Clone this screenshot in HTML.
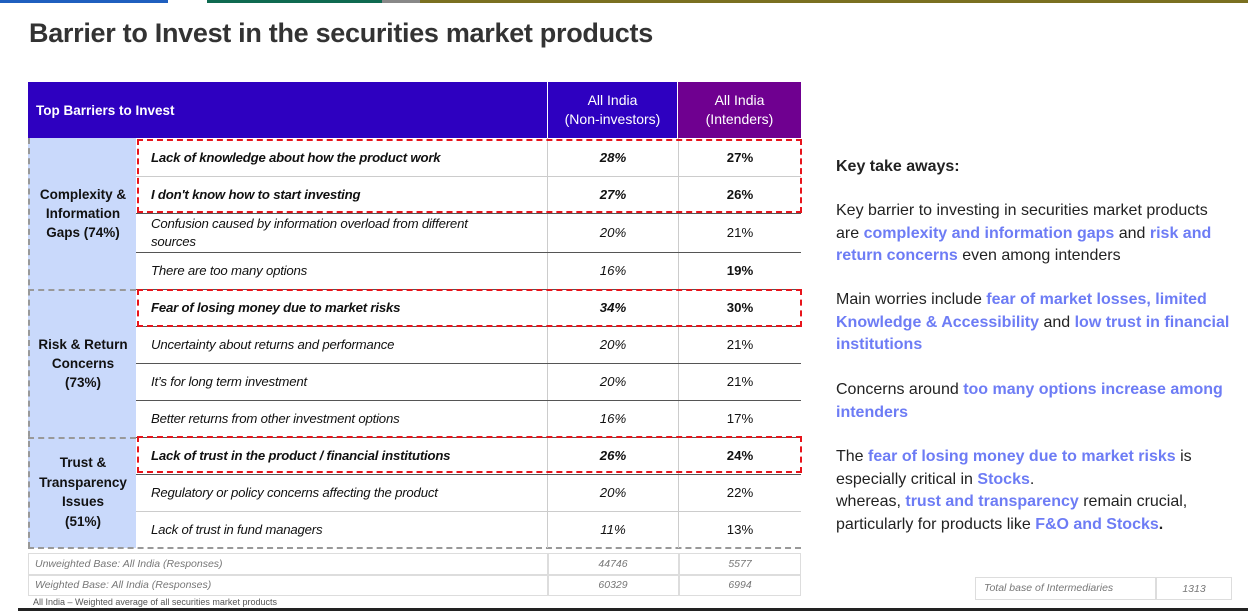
<!DOCTYPE html>
<html><head><meta charset="utf-8"><style>
*{margin:0;padding:0;box-sizing:border-box}
body{width:1248px;height:611px;background:#fff;position:relative;overflow:hidden;font-family:"Liberation Sans",sans-serif;color:#111}
.a{position:absolute}
.c{display:flex;align-items:center;justify-content:center;text-align:center}
.l{display:flex;align-items:center}
.bar{position:absolute;top:0;height:3px}
.row{position:absolute;left:136px;width:665px;height:1px;background:#555}
.txt{font-size:13.2px;font-style:italic;letter-spacing:-0.2px}
.num{font-size:13.2px;font-style:italic}
.red{position:absolute;border:2.5px dashed #e8141b}
.rt{position:absolute;left:836px;font-size:16px;line-height:22.5px;color:#222}
.b{color:#6d7cf5;font-weight:bold}
</style></head><body>
<div class="bar" style="left:0;width:168px;background:#1f5fbf"></div>
<div class="bar" style="left:207px;width:175px;background:#0e6a50"></div>
<div class="bar" style="left:382px;width:38px;background:#888"></div>
<div class="bar" style="left:420px;width:828px;background:#7a7020"></div>
<div class="a" style="left:29px;top:18px;font-size:27px;font-weight:bold;color:#333;letter-spacing:-0.3px">Barrier to Invest in the securities market products</div>

<div class="a l" style="left:28px;top:82px;width:519px;height:56px;background:#2e00c0;color:#fff;font-size:13.5px;font-weight:bold;padding-left:8px">Top Barriers to Invest</div>
<div class="a c" style="left:548px;top:82px;width:129px;height:56px;background:#2e00c0;color:#fff;font-size:14px;line-height:19px">All India<br>(Non-investors)</div>
<div class="a c" style="left:678px;top:82px;width:123px;height:56px;background:#6f0090;color:#fff;font-size:14px;line-height:19px">All India<br>(Intenders)</div>

<div class="a c" style="left:28px;top:138px;width:108px;height:410px;background:#c9d9fb;border-left:2px dashed #999"></div>
<div class="a" style="left:28px;top:289px;width:108px;border-top:2px dashed #999"></div>
<div class="a" style="left:28px;top:437px;width:108px;border-top:2px dashed #999"></div>
<div class="a" style="left:28px;top:547px;width:773px;border-top:2px dashed #999"></div>
<div class="a c" style="left:30px;top:138px;width:106px;height:151px;font-size:13.5px;font-weight:bold;line-height:19px">Complexity &amp;<br>Information<br>Gaps (74%)</div>
<div class="a c" style="left:30px;top:289px;width:106px;height:148px;font-size:13.5px;font-weight:bold;line-height:19px">Risk &amp; Return<br>Concerns<br>(73%)</div>
<div class="a c" style="left:30px;top:437px;width:106px;height:110px;font-size:13.5px;font-weight:bold;line-height:19.5px">Trust &amp;<br>Transparency<br>Issues<br>(51%)</div>

<div class="a" style="left:547px;top:138px;width:1px;height:410px;background:#ccc"></div>
<div class="a" style="left:678px;top:138px;width:1px;height:410px;background:#ccc"></div>

<div class="row" style="top:176px;background:#ccc"></div>
<div class="row" style="top:213px"></div>
<div class="row" style="top:252px"></div>
<div class="row" style="top:289px"></div>
<div class="row" style="top:326px"></div>
<div class="row" style="top:363px"></div>
<div class="row" style="top:400px"></div>
<div class="row" style="top:437px"></div>
<div class="row" style="top:474px"></div>
<div class="row" style="top:511px;background:#ccc"></div>

<div class="a l txt" style="left:151px;top:139px;height:37px;font-weight:bold">Lack of knowledge about how the product work</div>
<div class="a c num" style="left:548px;top:139px;width:130px;height:37px;font-weight:bold">28%</div>
<div class="a c num" style="left:679px;top:139px;width:122px;height:37px;font-weight:bold;font-style:normal">27%</div>

<div class="a l txt" style="left:151px;top:176px;height:37px;font-weight:bold">I don't know how to start investing</div>
<div class="a c num" style="left:548px;top:176px;width:130px;height:37px;font-weight:bold">27%</div>
<div class="a c num" style="left:679px;top:176px;width:122px;height:37px;font-weight:bold;font-style:normal">26%</div>

<div class="a l txt" style="left:151px;top:213px;height:39px;width:330px;line-height:18px">Confusion caused by information overload from different<br>sources</div>
<div class="a c num" style="left:548px;top:213px;width:130px;height:39px">20%</div>
<div class="a c num" style="left:679px;top:213px;width:122px;height:39px;font-style:normal">21%</div>

<div class="a l txt" style="left:151px;top:252px;height:37px">There are too many options</div>
<div class="a c num" style="left:548px;top:252px;width:130px;height:37px">16%</div>
<div class="a c num" style="left:679px;top:252px;width:122px;height:37px;font-weight:bold;font-style:normal">19%</div>

<div class="a l txt" style="left:151px;top:289px;height:37px;font-weight:bold">Fear of losing money due to market risks</div>
<div class="a c num" style="left:548px;top:289px;width:130px;height:37px;font-weight:bold">34%</div>
<div class="a c num" style="left:679px;top:289px;width:122px;height:37px;font-weight:bold;font-style:normal">30%</div>

<div class="a l txt" style="left:151px;top:326px;height:37px">Uncertainty about returns and performance</div>
<div class="a c num" style="left:548px;top:326px;width:130px;height:37px">20%</div>
<div class="a c num" style="left:679px;top:326px;width:122px;height:37px;font-style:normal">21%</div>

<div class="a l txt" style="left:151px;top:363px;height:37px">It’s for long term investment</div>
<div class="a c num" style="left:548px;top:363px;width:130px;height:37px">20%</div>
<div class="a c num" style="left:679px;top:363px;width:122px;height:37px;font-style:normal">21%</div>

<div class="a l txt" style="left:151px;top:400px;height:37px">Better returns from other investment options</div>
<div class="a c num" style="left:548px;top:400px;width:130px;height:37px">16%</div>
<div class="a c num" style="left:679px;top:400px;width:122px;height:37px;font-style:normal">17%</div>

<div class="a l txt" style="left:151px;top:437px;height:37px;font-weight:bold">Lack of trust in the product / financial institutions</div>
<div class="a c num" style="left:548px;top:437px;width:130px;height:37px;font-weight:bold">26%</div>
<div class="a c num" style="left:679px;top:437px;width:122px;height:37px;font-weight:bold;font-style:normal">24%</div>

<div class="a l txt" style="left:151px;top:474px;height:37px">Regulatory or policy concerns affecting the product</div>
<div class="a c num" style="left:548px;top:474px;width:130px;height:37px">20%</div>
<div class="a c num" style="left:679px;top:474px;width:122px;height:37px;font-style:normal">22%</div>

<div class="a l txt" style="left:151px;top:511px;height:37px">Lack of trust in fund managers</div>
<div class="a c num" style="left:548px;top:511px;width:130px;height:37px">11%</div>
<div class="a c num" style="left:679px;top:511px;width:122px;height:37px;font-style:normal">13%</div>

<div class="red" style="left:137px;top:139px;width:665px;height:74px"></div>
<div class="red" style="left:137px;top:289px;width:665px;height:38px"></div>
<div class="red" style="left:137px;top:436px;width:665px;height:37px"></div>

<div class="a" style="left:28px;top:553px;width:773px;height:43px;border:1.5px solid #ddd"></div>
<div class="a" style="left:28px;top:574px;width:773px;height:1.5px;background:#ddd"></div>
<div class="a" style="left:547px;top:553px;width:1.5px;height:43px;background:#ddd"></div>
<div class="a" style="left:678px;top:553px;width:1.5px;height:43px;background:#ddd"></div>
<div class="a" style="left:35px;top:558px;font-size:10.5px;font-style:italic;color:#777">Unweighted Base: All India (Responses)</div>
<div class="a" style="left:35px;top:579px;font-size:10.5px;font-style:italic;color:#777">Weighted Base: All India (Responses)</div>
<div class="a c" style="left:548px;top:555px;width:130px;height:18px;font-size:10.5px;font-style:italic;color:#777">44746</div>
<div class="a c" style="left:679px;top:555px;width:122px;height:18px;font-size:10.5px;font-style:italic;color:#777">5577</div>
<div class="a c" style="left:548px;top:576px;width:130px;height:18px;font-size:10.5px;font-style:italic;color:#777">60329</div>
<div class="a c" style="left:679px;top:576px;width:122px;height:18px;font-size:10.5px;font-style:italic;color:#777">6994</div>
<div class="a" style="left:33px;top:597px;font-size:9px;color:#555">All India – Weighted average of all securities market products</div>

<div class="rt" style="top:156px;font-weight:bold">Key take aways:</div>
<div class="rt" style="top:200px">Key barrier to investing in securities market products<br>are <span class="b">complexity and information gaps</span> and <span class="b">risk and<br>return concerns</span> even among intenders</div>
<div class="rt" style="top:289px">Main worries include <span class="b">fear of market losses, limited<br>Knowledge &amp; Accessibility</span> and <span class="b">low trust in financial<br>institutions</span></div>
<div class="rt" style="top:379px">Concerns around <span class="b">too many options increase among<br>intenders</span></div>
<div class="rt" style="top:446px">The <span class="b">fear of losing money due to market risks</span> is<br>especially critical in <span class="b">Stocks</span>.<br>whereas, <span class="b">trust and transparency</span> remain crucial,<br>particularly for products like <span class="b">F&amp;O and Stocks</span><b>.</b></div>

<div class="a" style="left:975px;top:577px;width:257px;height:23px;border:1.5px solid #ddd"></div>
<div class="a" style="left:1155px;top:577px;width:1.5px;height:23px;background:#ddd"></div>
<div class="a" style="left:984px;top:582px;font-size:10.5px;font-style:italic;color:#777">Total base of Intermediaries</div>
<div class="a c" style="left:1156px;top:578px;width:76px;height:21px;font-size:10.5px;font-style:italic;color:#777">1313</div>

<div class="a" style="left:18px;top:608px;width:1230px;height:3px;background:#222"></div>
</body></html>
